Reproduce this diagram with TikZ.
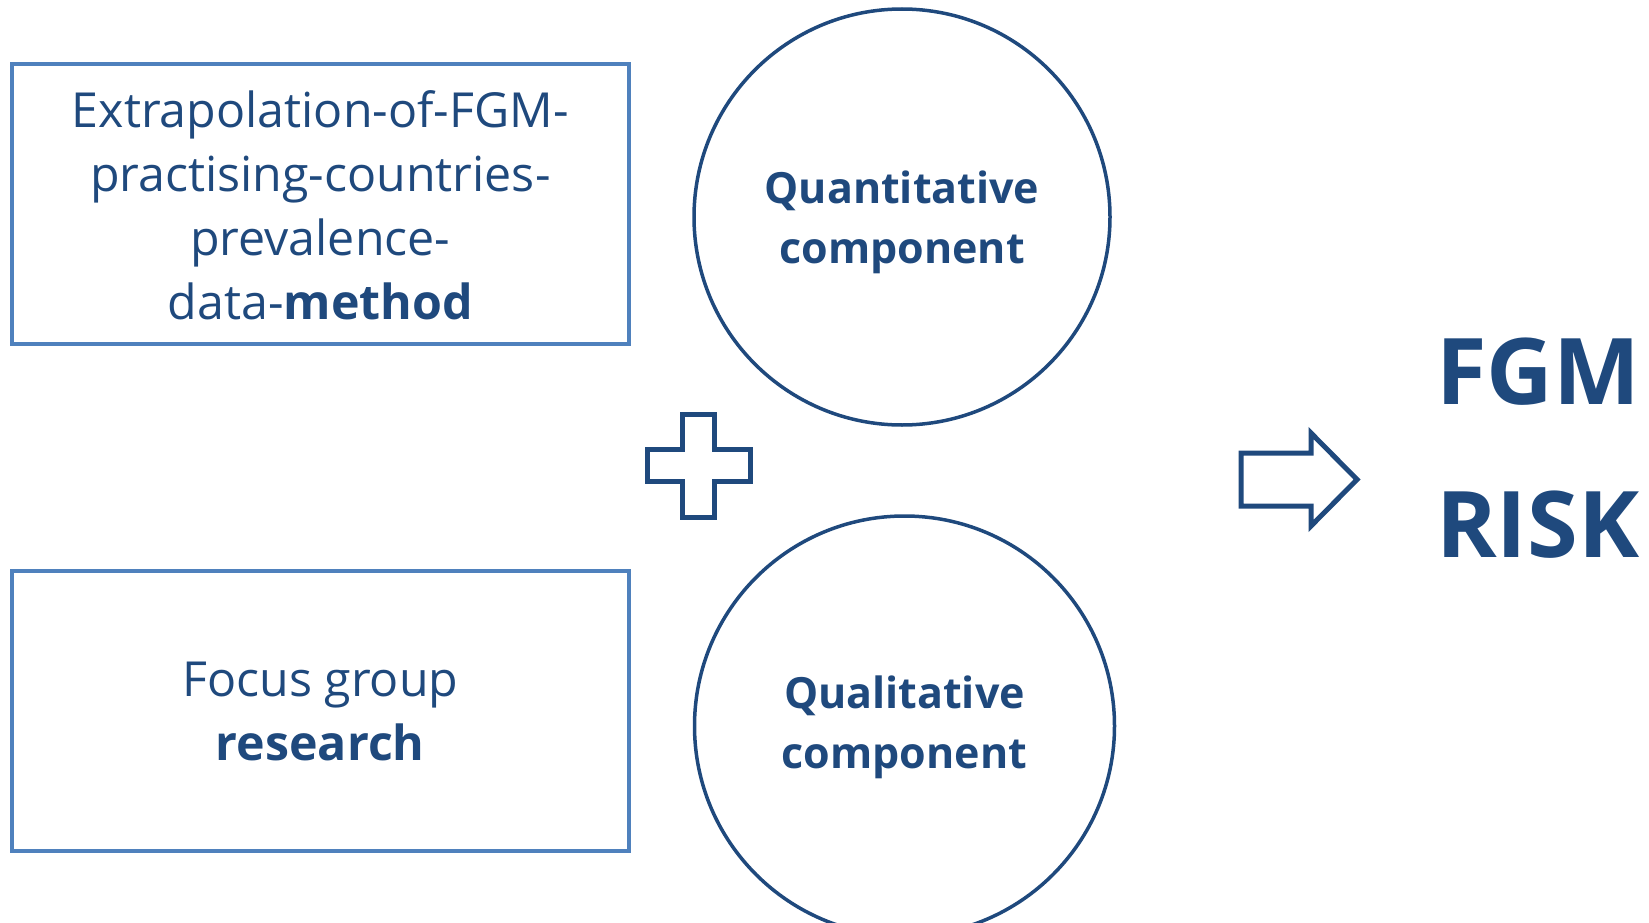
\documentclass[tikz,border=0pt]{standalone}
\usepackage{fontspec}
\setmainfont{Open Sans}
\definecolor{navy}{HTML}{1F497D}
\definecolor{boxblue}{HTML}{4F81BD}
\begin{document}
\begin{tikzpicture}[x=1pt,y=-1pt,
  methodbox/.style={draw=boxblue, line width=4pt, minimum width=617pt,
    minimum height=280pt, inner sep=0pt},
  boxtext/.style={align=center, text=navy, inner sep=0pt,
    font=\fontsize{48.3}{64}\selectfont},
  component/.style={draw=navy, circle, line width=3.5pt, inner sep=0pt},
  comptext/.style={align=center, text=navy, inner sep=0pt,
    font=\fontsize{43}{60}\selectfont\bfseries},
  symbol/.style={draw=navy, line width=5pt, fill=white, line join=miter},
  result/.style={text=navy, font=\fontsize{92}{92}\selectfont\bfseries,
    inner sep=0pt, anchor=base west}]
\useasboundingbox (0,0) rectangle (1649,923);

% method boxes
\node[methodbox] (extrap) at (320.3,204) {};
\node[boxtext] (extraptext) at ([yshift=-1pt]extrap.center)
  {Extrapolation-of-FGM-\\practising-countries-\\prevalence-\\data-\textbf{method}};
\node[methodbox] (focus) at (320.3,710.5) {};
\node[boxtext] (focustext) at ([yshift=-1pt]focus.center)
  {Focus group\\\textbf{research}};

% components
\node[component, minimum size=416pt] (quant) at (902,217) {};
\node[comptext] (quanttext) at ([yshift=-5pt]quant.center)
  {Quantitative\\component};
\node[component, minimum size=420pt] (qual) at (904.5,726) {};
\node[comptext] (qualtext) at ([yshift=-1pt]qual.center)
  {Qualitative\\component};

% plus sign between the components
\draw[symbol] (682.5,414.5) -- (714.5,414.5) -- (714.5,449.5) -- (750.5,449.5)
  -- (750.5,481.5) -- (714.5,481.5) -- (714.5,517.5) -- (682.5,517.5)
  -- (682.5,481.5) -- (647.5,481.5) -- (647.5,449.5) -- (682.5,449.5) -- cycle;

% outlined arrow towards the result
\draw[symbol] (1241,453) -- (1311,453) -- (1311,433) -- (1357,479.5)
  -- (1311,526) -- (1311,506) -- (1241,506) -- cycle;

% result
\node[result] (fgm) at (1436,404) {FGM};
\node[result] (risk) at (1436,557) {RISK};
\end{tikzpicture}
\end{document}
